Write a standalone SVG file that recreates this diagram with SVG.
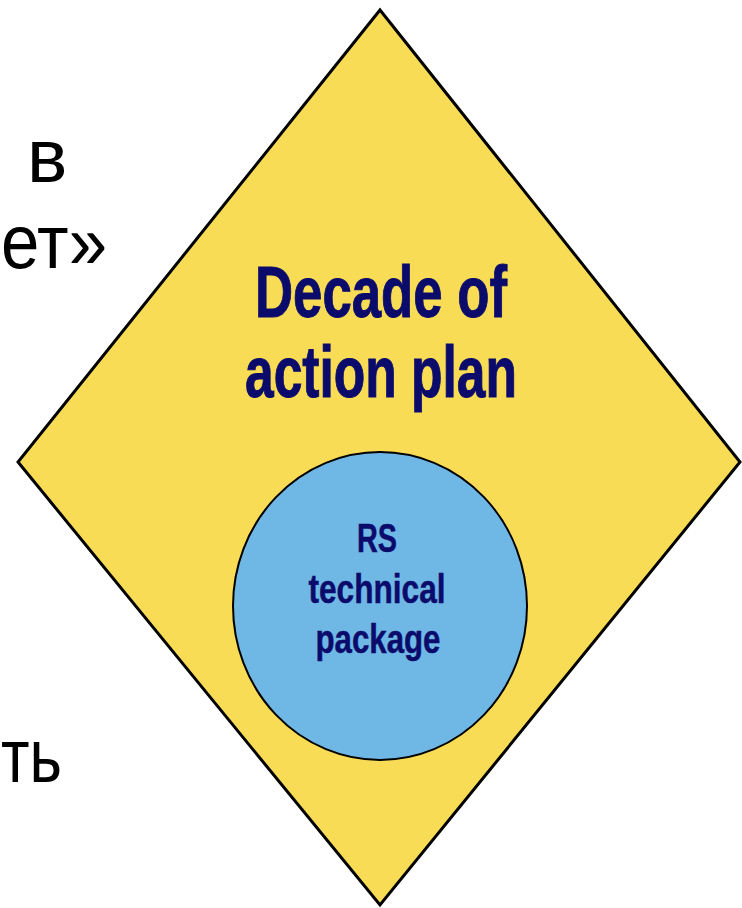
<svg xmlns="http://www.w3.org/2000/svg" width="742" height="908" viewBox="0 0 742 908">
<style>
.side{font-family:"Liberation Sans",Arial,sans-serif;font-size:76px;fill:#000}
.big{font-family:"Liberation Sans",Arial,sans-serif;font-weight:bold;font-size:72px;fill:#0B0B6B;stroke:#0B0B6B;stroke-width:1;text-anchor:middle}
.small{font-family:"Liberation Sans",Arial,sans-serif;font-weight:bold;font-size:40px;fill:#0B0B6B;stroke:#0B0B6B;stroke-width:0.5;text-anchor:middle}
</style>
<rect width="742" height="908" fill="#fff"/>
<g id="side-text">
<text class="side" x="27" y="182">в</text>
<text class="side" x="1" y="268" textLength="106" lengthAdjust="spacingAndGlyphs">ет»</text>
<text class="side" x="1" y="782" textLength="61" lengthAdjust="spacingAndGlyphs">ть</text>
</g>
<g id="diamond">
<polygon points="380,10 740,462 380,905 18,462" fill="#F9DC55" stroke="#000" stroke-width="3" stroke-linejoin="miter"/>
<text class="big" x="381" y="317" textLength="252" lengthAdjust="spacingAndGlyphs">Decade of</text>
<text class="big" x="381" y="397" textLength="272" lengthAdjust="spacingAndGlyphs">action plan</text>
</g>
<g id="circle">
<ellipse cx="380" cy="606" rx="147" ry="154" fill="#6FB8E6" stroke="#000" stroke-width="2"/>
<text class="small" x="377" y="552" textLength="40" lengthAdjust="spacingAndGlyphs">RS</text>
<text class="small" x="377" y="603" textLength="137" lengthAdjust="spacingAndGlyphs">technical</text>
<text class="small" x="378" y="653" textLength="125" lengthAdjust="spacingAndGlyphs">package</text>
</g>
<g id="connectors"/>
</svg>
